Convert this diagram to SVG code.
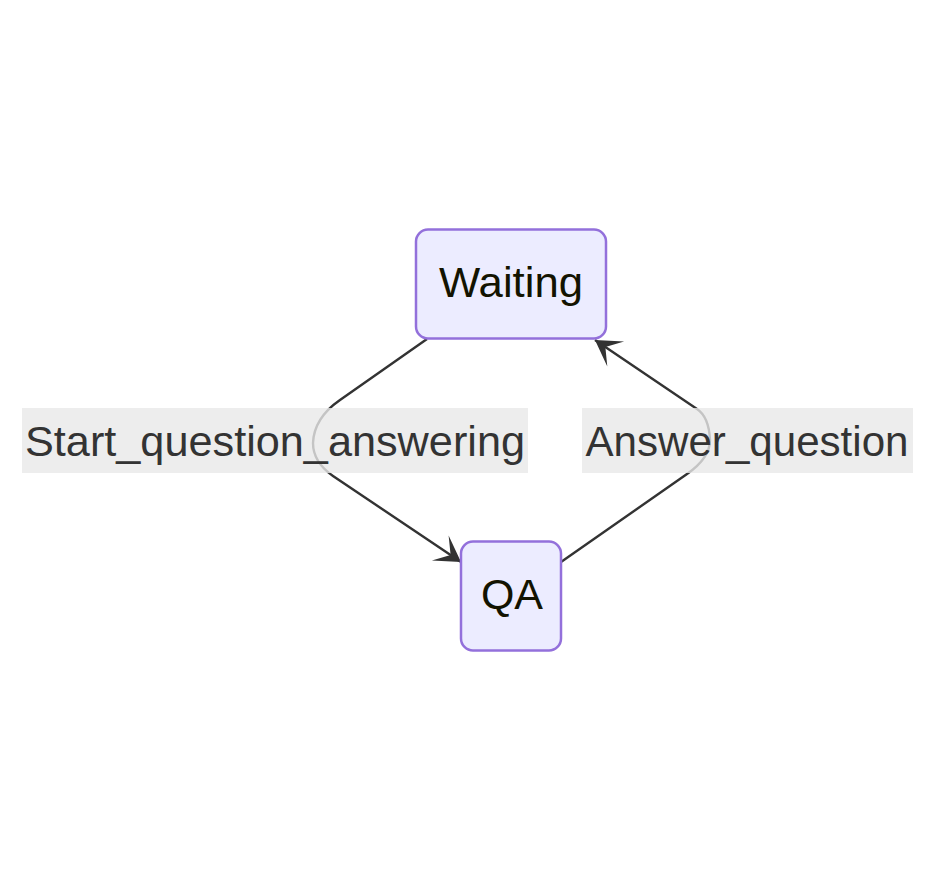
<svg xmlns="http://www.w3.org/2000/svg" width="935" height="881" viewBox="0 0 935 881">
<defs>
<style>
.node rect{fill:#ECECFF;stroke:#9370DB;stroke-width:2.5}
.node text{font-family:"Liberation Sans",Arial,sans-serif;font-size:43px;fill:#131300;text-anchor:middle}
.edge{fill:none;stroke:#333;stroke-width:2.4}
.lbl rect{fill:#e8e8e8;fill-opacity:0.8}
.lbl text{font-family:"Liberation Sans",Arial,sans-serif;font-size:43px;fill:#333;text-anchor:middle}
</style>
<marker id="barb" viewBox="0 0 20 14" refX="19" refY="7" markerWidth="50" markerHeight="35" markerUnits="userSpaceOnUse" orient="auto">
<path d="M19,7 L9,13 L14,7 L9,1 Z" fill="#333"/>
</marker>
</defs>
<rect width="935" height="881" fill="#fff"/>
<g id="connectors">
<path class="edge" d="M427,339 L340,400 Q314,418 313,443 Q313,462 333,476 L461,562" marker-end="url(#barb)"/>
<path class="edge" d="M561,562 L687,474 Q710,458 710,440 Q709,417 697,409 L595,340" marker-end="url(#barb)"/>
</g>
<g id="labels">
<g class="lbl" id="label-start"><rect x="22" y="408" width="506" height="65"/><text x="275" y="456" textLength="500" lengthAdjust="spacingAndGlyphs">Start_question_answering</text></g>
<g class="lbl" id="label-answer"><rect x="582" y="408" width="331" height="65"/><text x="747" y="456" textLength="323" lengthAdjust="spacingAndGlyphs">Answer_question</text></g>
</g>
<g class="node" id="node-waiting"><rect x="416" y="229.5" width="190" height="109" rx="12"/><text x="511" y="297" textLength="144" lengthAdjust="spacingAndGlyphs">Waiting</text></g>
<g class="node" id="node-qa"><rect x="461" y="541.5" width="100" height="109" rx="12"/><text x="512" y="609">QA</text></g>
</svg>
